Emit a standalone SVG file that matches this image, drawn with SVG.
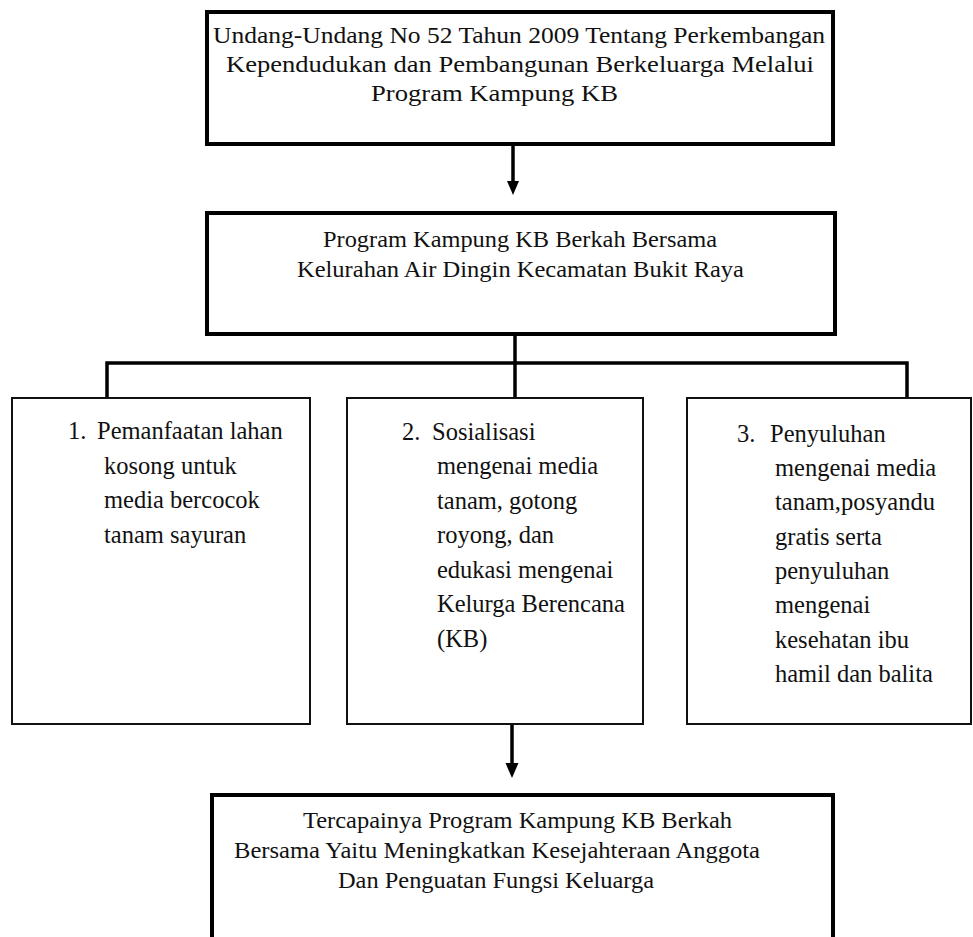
<svg xmlns="http://www.w3.org/2000/svg" width="973" height="937" viewBox="0 0 973 937">
<style>
  text { font-family: "Liberation Serif", "Times New Roman", serif; fill: #111; }
  .t { font-size: 24px; }
  .s { font-size: 24.5px; }
  .thick { fill: #fff; stroke: #000; stroke-width: 4; }
  .thin { fill: #fff; stroke: #111; stroke-width: 2; }
  .line { fill: none; stroke: #000; stroke-width: 3.5; }
</style>
<rect width="973" height="937" fill="#fff"/>

<g id="connectors">
  <line class="line" x1="513" y1="144" x2="513" y2="181"/>
  <path d="M507,181 L519,181 L513,195 Z" fill="#000"/>
  <path class="line" d="M515,334 L515,398"/>
  <path class="line" d="M107,398 L107,363 L907,363 L907,398"/>
  <line class="line" x1="512" y1="724" x2="512" y2="763"/>
  <path d="M505.5,763 L518.5,763 L512,778 Z" fill="#000"/>
</g>

<g id="node-uu">
  <rect class="thick" x="207" y="12" width="626" height="132"/>
  <text class="t" x="213" y="43" textLength="612" lengthAdjust="spacingAndGlyphs">Undang-Undang No 52 Tahun 2009 Tentang Perkembangan</text>
  <text class="t" x="226" y="72" textLength="588" lengthAdjust="spacingAndGlyphs">Kependudukan dan Pembangunan Berkeluarga Melalui</text>
  <text class="t" x="371" y="101" textLength="247" lengthAdjust="spacingAndGlyphs">Program Kampung KB</text>
</g>

<g id="node-program">
  <rect class="thick" x="207" y="213" width="628" height="121"/>
  <text class="t" x="323" y="247" textLength="394" lengthAdjust="spacingAndGlyphs">Program Kampung KB Berkah Bersama</text>
  <text class="t" x="297" y="277" textLength="447" lengthAdjust="spacingAndGlyphs">Kelurahan Air Dingin Kecamatan Bukit Raya</text>
</g>

<g id="node-1">
  <rect class="thin" x="12" y="398" width="298" height="326"/>
  <text class="s" x="68" y="439">1.</text>
  <text class="s" x="97" y="439">Pemanfaatan lahan</text>
  <text class="s" x="104" y="474">kosong untuk</text>
  <text class="s" x="104" y="508">media bercocok</text>
  <text class="s" x="104" y="543">tanam sayuran</text>
</g>

<g id="node-2">
  <rect class="thin" x="347" y="398" width="296" height="326"/>
  <text class="s" x="402" y="440">2.</text>
  <text class="s" x="432" y="440">Sosialisasi</text>
  <text class="s" x="437" y="474">mengenai media</text>
  <text class="s" x="437" y="509">tanam, gotong</text>
  <text class="s" x="437" y="543">royong, dan</text>
  <text class="s" x="437" y="578">edukasi mengenai</text>
  <text class="s" x="437" y="612">Kelurga Berencana</text>
  <text class="s" x="437" y="647">(KB)</text>
</g>

<g id="node-3">
  <rect class="thin" x="687" y="398" width="284" height="326"/>
  <text class="s" x="737" y="442">3.</text>
  <text class="s" x="770" y="442">Penyuluhan</text>
  <text class="s" x="775" y="476">mengenai media</text>
  <text class="s" x="775" y="510">tanam,posyandu</text>
  <text class="s" x="775" y="545">gratis serta</text>
  <text class="s" x="775" y="579">penyuluhan</text>
  <text class="s" x="775" y="613">mengenai</text>
  <text class="s" x="775" y="648">kesehatan ibu</text>
  <text class="s" x="775" y="682">hamil dan balita</text>
</g>

<g id="node-hasil">
  <rect class="thick" x="212" y="795" width="621" height="160"/>
  <text class="t" x="303" y="828" textLength="429" lengthAdjust="spacingAndGlyphs">Tercapainya Program Kampung KB Berkah</text>
  <text class="t" x="234" y="858" textLength="526" lengthAdjust="spacingAndGlyphs">Bersama Yaitu Meningkatkan Kesejahteraan Anggota</text>
  <text class="t" x="338" y="888" textLength="316" lengthAdjust="spacingAndGlyphs">Dan Penguatan Fungsi Keluarga</text>
</g>
</svg>
